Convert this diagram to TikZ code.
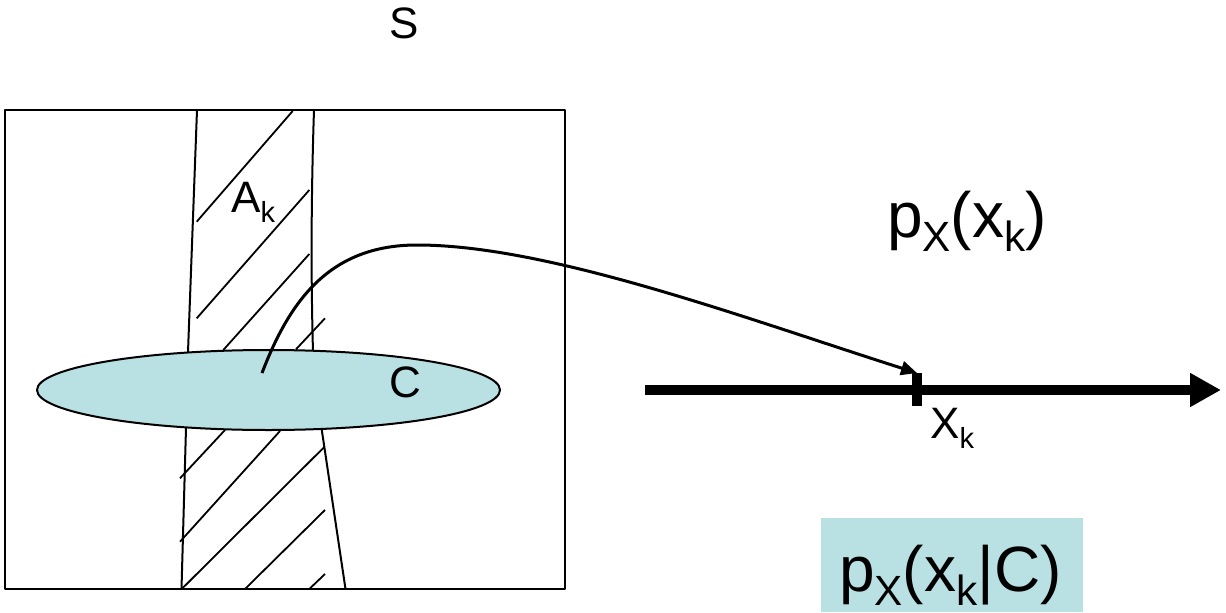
\documentclass[tikz,border=0pt]{standalone}
\usepackage{fontspec}
\usepackage{graphicx}
\setmainfont{Liberation Sans}
\usetikzlibrary{arrows.meta,shapes.geometric}
\definecolor{cfill}{RGB}{185,224,227}
\newcommand\mysub[1]{\raisebox{-0.23em}{\scalebox{0.66}{#1}}}
\tikzset{
  lab/.style={font=\fontsize{44}{52}\selectfont, inner sep=0pt, anchor=base west},
  biglab/.style={font=\fontsize{64}{76}\selectfont, inner sep=0pt, anchor=base west},
  frameline/.style={line width=2pt},
  bandline/.style={line width=2pt},
  hatch/.style={line width=1.8pt},
  curveline/.style={line width=3pt, -{Triangle[length=16pt,width=14pt]}},
  axisline/.style={line width=10pt, -{Triangle[length=31pt,width=32pt]}}
}
\begin{document}
\begin{tikzpicture}[x=1pt,y=-1pt,line join=round]
\useasboundingbox (0,0) rectangle (1226,613);
% frame
\draw[frameline] (5,110) rectangle (565,589);
% band
\draw[bandline] (197,110) -- (188,352);
\draw[bandline] (314,110) .. controls (311,200) and (311,280) .. (313,352);
\draw[bandline] (186,428) -- (181.5,589);
\draw[bandline] (321.5,428) -- (345.5,589);
% hatching top
\draw[hatch] (196.7,221.7) -- (292.7,111);
\draw[hatch] (196.7,318.3) -- (309.3,190);
\draw[hatch] (223.3,350) -- (309.3,254);
\draw[hatch] (296,349.3) -- (325,318.3);
% hatching bottom
\draw[hatch] (180,478.3) -- (225,430);
\draw[hatch] (180,541.7) -- (280,431);
\draw[hatch] (181.7,589) -- (324,447.3);
\draw[hatch] (245,589) -- (325,510);
\draw[hatch] (309.3,589) -- (325,574);
% ellipse C
\node[ellipse, draw, line width=2pt, fill=cfill, minimum width=463pt, minimum height=80pt, inner sep=0pt] (ell) at (268.5,390) {};
% labels
\node[lab] (S) at (389,38) {S};
\node[lab] (Ak) at (231,212) {A\mysub{k}};
\node[lab] (Clab) at (389,397) {C};
\node[lab] (Xk) at (930,438) {X\mysub{k}};
\node[biglab] (pX) at (887,237) {p\mysub{X}(x\mysub{k})};
% conditional box
\node[fill=cfill, minimum width=262pt, minimum height=94pt, inner sep=0pt] (cbox) at (952,565) {};
\node[biglab] (pXC) at (839,591) {p\mysub{X}(x\mysub{k}|C)};
% axis
\coordinate (a0) at (645,390);
\coordinate (a1) at (1221,390);
\draw[axisline] (a0) -- (a1);
\coordinate (t0) at (917,373);
\coordinate (t1) at (917,406);
\draw[line width=10pt] (t0) -- (t1);
% curved arrow
\coordinate (cs) at (262,373);
\coordinate (pk) at (417,245);
\draw[curveline] (cs) .. controls (290,300) and (330,245) .. (pk) .. controls (550,245) and (750,320) .. (t0);
\end{tikzpicture}
\end{document}
